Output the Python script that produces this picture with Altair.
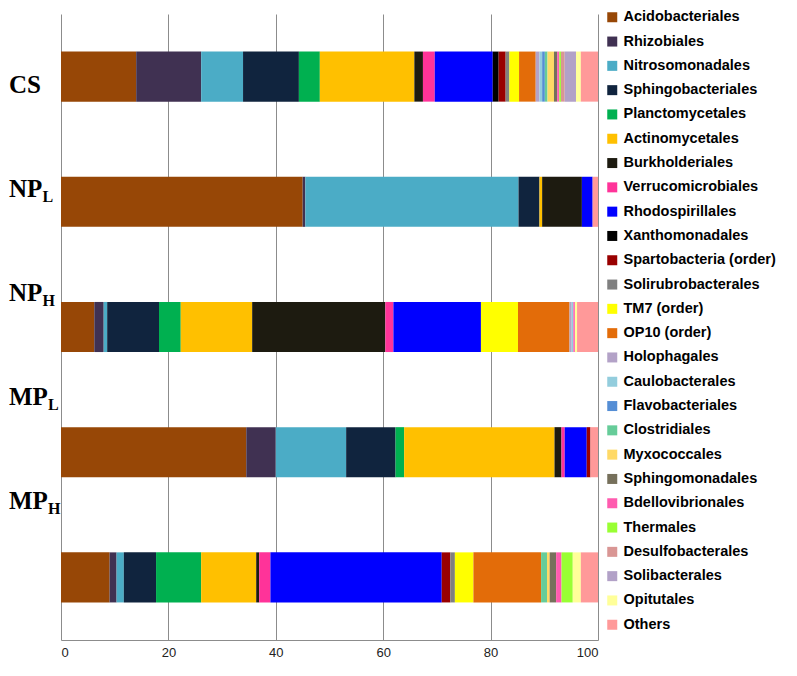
import altair as alt
import pandas as pd

orders = [
    "Acidobacteriales", "Rhizobiales", "Nitrosomonadales", "Sphingobacteriales",
    "Planctomycetales", "Actinomycetales", "Burkholderiales", "Verrucomicrobiales",
    "Rhodospirillales", "Xanthomonadales", "Spartobacteria (order)", "Solirubrobacterales",
    "TM7 (order)", "OP10 (order)", "Holophagales", "Caulobacterales", "Flavobacteriales",
    "Clostridiales", "Myxococcales", "Sphingomonadales", "Bdellovibrionales", "Thermales",
    "Desulfobacterales", "Solibacterales", "Opitutales", "Others",
]
colors = [
    "#974706", "#403152", "#4BACC6", "#10243E", "#00B050", "#FFC000", "#1D1B10",
    "#FF3399", "#0000FF", "#000000", "#990000", "#808080", "#FFFF00", "#E36C09",
    "#B3A2C7", "#93CDDD", "#558ED5", "#66CC99", "#FFD966", "#76705B", "#FF5BAF",
    "#99FF33", "#D99694", "#B2A1C7", "#FFFF99", "#FF9999",
]

samples = ["CS", "NPL", "NPH", "MPL", "MPH"]
label_main = ["CS", "NP", "NP", "MP", "MP"]
label_sub = ["", "L", "H", "L", "H"]

cs = [14.0, 12.1, 7.8, 10.4, 3.9, 17.6, 1.6, 2.2, 10.8, 1.1, 1.3, 0.7, 1.8, 3.1,
      0.7, 0.5, 0.5, 0.5, 1.2, 0.6, 0.4, 0.3, 0.7, 2.1, 0.9, 3.2]
np_l = [45.0, 0.5, 39.7, 3.9, 0, 0.5, 7.4, 0, 2.0, 0, 0, 0, 0, 0,
        0, 0, 0, 0, 0, 0, 0, 0, 0, 0, 0, 1.0]
np_h = [6.2, 1.75, 0.65, 9.65, 4.05, 13.3, 24.8, 1.5, 16.3, 0, 0, 0, 6.9, 9.6,
        0.4, 0.3, 0, 0, 0, 0, 0.3, 0, 0, 0, 0.4, 3.9]
mp_l = [34.5, 5.5, 13.1, 9.2, 1.6, 28.0, 1.3, 0.6, 4.1, 0, 0.7, 0, 0, 0,
        0, 0, 0, 0, 0, 0, 0, 0, 0, 0, 0, 1.4]
mp_h = [9.05, 1.3, 1.35, 6.0, 8.4, 10.25, 0.55, 2.1, 31.9, 0, 1.6, 0.85, 3.45, 12.6,
        0, 0, 0, 1.1, 0.5, 1.2, 1.0, 2.1, 0, 0, 1.5, 3.2]

series = {"CS": cs, "NPL": np_l, "NPH": np_h, "MPL": mp_l, "MPH": mp_h}
rows = []
for s, vals in series.items():
    for i, (o, v) in enumerate(zip(orders, vals)):
        if v > 0:
            rows.append({"sample": s, "order": o, "idx": i, "value": v})
df = pd.DataFrame(rows)

lab_df = pd.DataFrame({"sample": samples, "main": label_main, "sub": label_sub})

bars = alt.Chart(df).mark_bar(strokeWidth=0).encode(
    x=alt.X("value:Q", stack="zero",
            scale=alt.Scale(domain=[0, 100], nice=False),
            axis=alt.Axis(values=[0, 20, 40, 60, 80, 100], grid=True, ticks=False,
                          title=None, labelFont="Liberation Sans", labelFontSize=13,
                          labelColor="#222222", labelPadding=6,
                          gridColor="#8c8c8c", gridWidth=1,
                          domainColor="#8c8c8c")),
    y=alt.Y("sample:N", scale=alt.Scale(domain=samples, paddingInner=0.6, paddingOuter=0.3),
            axis=None),
    color=alt.Color("order:N", scale=alt.Scale(domain=orders, range=colors),
                    legend=alt.Legend(title=None, orient="none", legendX=544, legendY=-4,
                                      symbolType="square", symbolSize=100,
                                      symbolStrokeWidth=0, symbolOpacity=1,
                                      labelFont="Liberation Sans", labelFontWeight="bold",
                                      labelFontSize=14.5, labelColor="black",
                                      rowPadding=9.3, labelOffset=4, padding=0,
                                      labelLimit=250)),
    order=alt.Order("idx:Q"),
)

label_y = alt.Y("sample:N",
                scale=alt.Scale(type="point", domain=samples, range=[71, 487], padding=0),
                axis=None)

main = alt.Chart(lab_df).mark_text(
    align="left", baseline="middle", font="Liberation Serif", fontWeight="bold",
    fontSize=25, color="black"
).encode(x=alt.value(-52), y=label_y, text="main:N")

sub_np = alt.Chart(lab_df).transform_filter(alt.datum.main == "NP").mark_text(
    align="left", baseline="alphabetic", font="Liberation Serif", fontWeight="bold",
    fontSize=16, color="black", dy=13
).encode(x=alt.value(-18.5), y=label_y, text="sub:N")

sub_mp = alt.Chart(lab_df).transform_filter(alt.datum.main == "MP").mark_text(
    align="left", baseline="alphabetic", font="Liberation Serif", fontWeight="bold",
    fontSize=16, color="black", dy=13
).encode(x=alt.value(-13), y=label_y, text="sub:N")

chart = alt.layer(bars, main, sub_np, sub_mp).resolve_scale(y="independent").properties(
    width=537, height=626,
    padding={"left": 53, "top": 6, "right": 191, "bottom": 28},
    autosize=alt.AutoSizeParams(type="none"),
).configure_view(stroke=None)

chart.save("out.html", embed_options={"renderer": "svg", "actions": False})
